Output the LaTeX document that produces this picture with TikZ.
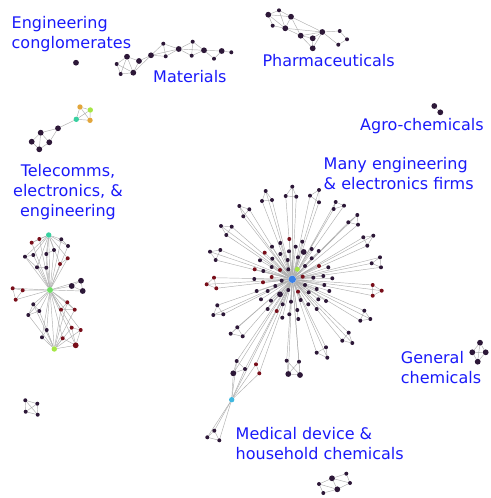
\documentclass[tikz,border=0pt]{standalone}
\usepackage{fontspec}
\setmainfont{DejaVu Sans}
\usetikzlibrary{backgrounds}
\definecolor{cdark}{RGB}{45,24,56}
\definecolor{cred}{RGB}{120,14,26}
\definecolor{corange}{RGB}{226,166,60}
\definecolor{clime}{RGB}{166,230,70}
\definecolor{cteal}{RGB}{56,208,160}
\definecolor{ccyan}{RGB}{64,184,224}
\definecolor{chub}{RGB}{58,128,232}
\definecolor{cgreen}{RGB}{110,224,100}
\definecolor{cedge}{RGB}{175,175,175}
\definecolor{clabel}{RGB}{26,26,250}
\tikzset{
  dn/.style={circle,inner sep=0pt,minimum size=4pt,fill=cdark,draw=none},
  dnb/.style={dn,minimum size=5.8pt},
  rn/.style={dn,fill=cred},
  rnb/.style={dnb,fill=cred},
  cn/.style={dn,minimum size=5.4pt,fill=#1},
  ln/.style={draw=cedge,line width=0.45pt},
  lab/.style={inner sep=0pt,text=clabel,font=\fontsize{16}{20}\selectfont}
}
\begin{document}
\begin{tikzpicture}[x=1pt,y=-1pt]
\useasboundingbox (0,0) rectangle (490,498);
% ---------- main star ----------
\node[cn=chub,minimum size=7.5pt] (H) at (292.3,279.3) {};
\node[cn=clime,minimum size=5pt] (G) at (297.3,269.3) {};
\node[cn=ccyan] (C) at (231.7,399.7) {};
\foreach \n/\x/\y/\s in {
 s1-a/265.7/191/dn, s1-b/262/201/dn, s1-c/272/200/dn,
 s2-a/292.3/186.7/dn, s2-b/285.7/196/dn, s2-c/296.3/196.7/dn,
 s3-a/310/195.7/dn, s3-b/319/190/dn, s3-c/319/202.3/dn,
 s4-a/335.7/202/dn, s4-b/344/205.7/dn, s4-c/333.7/209/dn,
 s5-a/357.3/215/dn, s5-b/348.3/222.3/dn, s5-c/358/224.7/dn,
 s6-a/373.3/235.7/dn, s6-b/363.3/237.3/dn, s6-c/367.3/245.7/dn,
 s7-a/380/257.3/dn, s7-b/371.7/263.3/dn, s7-c/381/267.3/dn,
 s8-a/372.7/285/rn, s8-b/381.7/290.7/rn, s8-c/372.7/295.7/rn,
 s9-a/364.3/310.7/dn, s9-b/370.3/319/dn, s9-c/360.3/320.7/dn,
 s10-a/348.7/332.7/dn, s10-b/342.3/340.7/dn, s10-c/352.3/343/dn,
 s11-a/326/347.3/dn, s11-b/316.7/352.7/dn, s11-c/327.3/357.7/dn,
 s14-a/237.3/327.3/dn, s14-b/230.7/333.7/dn, s14-c/242.7/336.3/dn,
 s15-a/217.3/305.3/dn, s15-b/213.3/315/dn, s15-c/223.3/314.3/dn,
 s16-a/214/277.7/rn, s16-b/206.7/284.3/rn, s16-c/216.3/288.3/rn,
 s17-a/210/251.7/dn, s17-b/220.3/250/dn, s17-c/215.7/260/dn,
 s18-a/221/226/dn, s18-b/231.7/226.7/dn, s18-c/226.3/235/dn,
 s19-a/239.3/206/dn, s19-b/249.3/209.3/dn, s19-c/243.3/216.3/dn,
 s12-a/286.7/360.7/dn, s12-b/299/361.7/dn, s12-c/288.3/374/dnb, s12-d/300/375/dnb,
 s13-a/236.7/361/dn, s13-b/256/364.3/rn, s13-c/245/369/dn, s13-d/233.3/373.3/dnb, s13-e/259.3/373.3/rn,
 mc1/214.3/430.7/dn, mc2/207.3/437.3/dn, mc3/219.3/440.3/dn,
 i1/280.3/243/dn, i2/272/246.7/dn, i3/280.3/254/dn, i4/289/251.3/dn, i5/260/260.3/dn,
 i6/272.3/258.7/dn, i7/287.7/260/dn, i8/263.3/271/dn, i9/271.7/267/dn, i10/288.3/269.3/dn,
 i11/254.3/279/dn, i12/302.3/241.7/dn, i13/295.7/246.7/dn, i14/303.7/252/dnb, i15/311.7/249/dn,
 i16/318.7/251/dn, i17/311.7/258.3/dn, i18/298/257.3/dn, i19/305/266/dn, i20/328.3/267.3/dn,
 i21/313.3/277.7/dn, i22/323.3/276/dn, i23/332.3/278.3/dn, i24/305/285/dn, i25/308.7/292.3/dn,
 i26/316.7/289/dn, i27/324.3/285/dn, i28/329.3/291/dn, i29/318.3/299.3/dn, i30/326/301/dn,
 i31/300.7/300/dn, i32/308.3/304.3/dn, i33/297.3/310/dn, i34/316.7/309/dn, i35/298.3/319/dn,
 i36/291/301.7/dn, i37/281.7/280.7/dn, i38/256.7/291/dn, i39/267.7/291/dn, i40/275.3/286/dn,
 i41/280/294.3/dnb, i42/288.3/290/dn, i43/261/299.3/dn, i44/271/300.7/dn, i45/282.7/304.3/dn,
 i46/276.7/311/rn, i47/267.7/309/dn, i48/289.3/314.3/dn, i49/282.3/317.7/dn,
 i50/289.3/239/rn, i51/264.7/252.7/rn, i52/254.7/269.3/rn, i53/280/270/rn, i54/271.7/277/rn,
 i55/319/266/rn, i56/302.7/276.7/rn, i57/298/291.7/rn, i58/263/282.3/rn}
  \node[\s] (\n) at (\x,\y) {};
% ---------- telecomms cluster ----------
\node[cn=cgreen,minimum size=6pt] (T) at (50,290) {};
\node[cn=cteal] (Tt) at (48.7,235) {};
\node[cn=clime] (Tb) at (54.3,349) {};
\foreach \n/\x/\y/\s in {
 u1/31.7/242.7/rn, u2/39.3/239/rn, u3/61.3/239.3/dn, u4/68/246/dn, u5/25/256.7/dn, u6/33.3/255/dn,
 u7/46.3/254/dn, u8/54/250/dn, u9/67.7/258.3/rn, u10/60/264/rn, u11/37/267.3/dn, u12/46.3/267.7/dn,
 r1/81/280.7/dnb, r2/71.7/286/dnb, r3/82.7/291/dnb,
 l1/12.7/288.3/rn, l2/22.7/290.3/rn, l3/15.7/299.7/rn,
 w1/33.3/304.3/dn, w2/67.3/302.3/rn, w3/61/309.7/rn, w4/74.7/309.7/rn, w5/39.3/311/dn, w6/28.3/315/dn,
 w7/46.7/330/dn, w8/71.7/327.7/rn, w9/80.7/330/rn, w10/42/337.3/dn, w11/62.7/338.3/rn, w12/75.7/345.3/rnb}
  \node[\s] (\n) at (\x,\y) {};
% ---------- small clusters ----------
\node[cn=corange] (g1) at (80,107) {};
\node[cn=clime] (g2) at (90.3,110) {};
\node[cn=cteal] (g3) at (76.3,119.3) {};
\node[cn=corange] (g4) at (90,120.3) {};
\foreach \n/\x/\y/\s in {
 g5/58/128.3/dnb, g6/40.7/132.7/dnb, g7/31.7/141.7/dnb, g8/49.3/142.3/dnb, g9/39.3/149.3/dnb,
 e1/76/62.7/dnb,
 m1/116.7/64/dn, m2/127/56.7/dnb, m3/120.7/74/dn, m4/133.3/72.7/dnb, m5/139/61/dnb, m6/151/55.3/dnb,
 m7/163.3/43.7/dn, m8/165.7/56.3/dn, m9/178.7/49/dnb, m10/192.7/41.7/dn, m11/191.7/55.7/dn,
 m12/204/50.3/dnb, m13/214/58.7/dn, m14/221.7/51/dnb, m15/231.3/52.3/dn,
 p1/268.3/14.7/dnb, p2/279/10.3/dn, p3/291/16.7/dnb, p4/272.7/25.7/dn, p5/285.3/28.3/dnb,
 p6/300.7/35.7/dnb, p7/312.7/38.3/dnb, p8/312.7/48.3/dnb, p9/322.3/32/dnb, p10/339.7/31/dn,
 p11/347/39.3/dn, p12/338.3/44.7/dn,
 a1/434.3/106/dnb, a2/440.3/112.3/dnb,
 gc1/480/342.7/dnb, gc2/472.3/352.3/dnb, gc3/485.7/352.3/dnb, gc4/477.7/361.7/dnb,
 b1/319/484/dn, b2/332/478.3/dnb, b3/346.3/473.7/dn, b4/350/483/dn, b5/337.3/489.3/dnb, b6/323.3/493/dn,
 bl1/25.3/400.3/dn, bl2/37.3/403.7/dn, bl3/25.7/411.7/dn, bl4/37.7/414.7/dn}
  \node[\s] (\n) at (\x,\y) {};
% ---------- edges ----------
\begin{pgfonlayer}{background}
\foreach \c in {s1,s2,s3,s4,s5,s6,s7,s8,s9,s10,s11,s14,s15,s16,s17,s18,s19}
  \draw[ln] (\c-a) -- (H) (\c-b) -- (H) (\c-c) -- (H) (\c-a) -- (\c-b) -- (\c-c) -- (\c-a);
\foreach \i in {1,...,58} \draw[ln] (i\i) -- (H);
\draw[ln] (G) -- (H) (C) -- (H);
\foreach \k in {a,b,c,d} \draw[ln] (s12-\k) -- (H);
\draw[ln] (s12-a) -- (s12-c) -- (s12-d) -- (s12-b) (s12-a) -- (s12-d) (s12-b) -- (s12-c);
\foreach \k in {a,b,c,d,e} \draw[ln] (s13-\k) -- (H) (s13-\k) -- (C);
\draw[ln] (s13-a) -- (s13-d) -- (s13-c) -- (s13-a) (s13-b) -- (s13-e);
\foreach \k in {mc1,mc2,mc3} \draw[ln] (\k) -- (C);
\draw[ln] (mc1) -- (mc2) -- (mc3) -- (mc1);
% telecomms
\draw[ln] (T) -- (Tt) (T) -- (Tb);
\foreach \k in {u1,u2,u3,u4,u5,u6,u7,u8,u9,u10,u11,u12} \draw[ln] (\k) -- (T) (\k) -- (Tt);
\draw[ln] (u1) -- (u2) (u5) -- (u6) (u3) -- (u4) (u9) -- (u10) (u11) -- (u12) (u7) -- (u8) (u5) -- (u11);
\foreach \k in {r1,r2,r3,l1,l2,l3} \draw[ln] (\k) -- (T);
\draw[ln] (r1) -- (r2) -- (r3) -- (r1) (l1) -- (l2) -- (l3) -- (l1);
\foreach \k in {w1,w2,w3,w4,w5,w6,w7,w8,w9,w10,w11,w12} \draw[ln] (\k) -- (T) (\k) -- (Tb);
\draw[ln] (w1) -- (w5) -- (w6) -- (w1) (w2) -- (w3) -- (w4) -- (w2) (w8) -- (w9) -- (w12) -- (w11) (w8) -- (w12) (w7) -- (w10);
% upper left group
\draw[ln] (g1) -- (g3) (g1) -- (g2) (g1) -- (g4) (g3) -- (g2) (g3) -- (g4) (g2) -- (g4) (g3) -- (g5)
  (g5) -- (g6) (g5) -- (g8) (g6) -- (g7) (g6) -- (g8) (g7) -- (g9) (g9) -- (g8) (g6) -- (g9);
% materials
\draw[ln] (m1) -- (m2) (m1) -- (m3) (m1) -- (m4) (m2) -- (m3) (m2) -- (m4) (m2) -- (m5) (m3) -- (m4)
  (m4) -- (m5) (m5) -- (m6) (m4) -- (m6) (m6) -- (m7) (m6) -- (m8) (m7) -- (m8) (m7) -- (m9)
  (m8) -- (m9) (m6) -- (m9) (m9) -- (m10) (m9) -- (m11) (m10) -- (m11) (m10) -- (m12) (m11) -- (m12)
  (m9) -- (m12) (m12) -- (m13) (m12) -- (m14) (m14) -- (m15) (m13) -- (m14);
% pharmaceuticals
\draw[ln] (p1) -- (p2) (p2) -- (p3) (p1) -- (p3) (p1) -- (p4) (p1) -- (p5) (p4) -- (p5) (p2) -- (p5)
  (p3) -- (p5) (p3) -- (p6) (p5) -- (p6) (p3) -- (p9) (p5) -- (p9) (p6) -- (p7) (p6) -- (p9)
  (p7) -- (p9) (p7) -- (p8) (p8) -- (p9) (p6) -- (p8) (p9) -- (p10) (p9) -- (p12) (p10) -- (p11)
  (p11) -- (p12);
% others
\draw[ln] (a1) -- (a2);
\draw[ln] (gc1) -- (gc2) (gc1) -- (gc3) (gc2) -- (gc4) (gc3) -- (gc4) (gc2) -- (gc3) (gc1) -- (gc4);
\draw[ln] (b1) -- (b2) (b1) -- (b5) (b1) -- (b6) (b2) -- (b3) (b2) -- (b5) (b2) -- (b4) (b3) -- (b4)
  (b5) -- (b4) (b6) -- (b5);
\draw[ln] (bl1) -- (bl2) (bl1) -- (bl3) (bl1) -- (bl4) (bl2) -- (bl3) (bl2) -- (bl4) (bl3) -- (bl4);
\end{pgfonlayer}
% ---------- labels ----------
\node[lab,anchor=base west] (L1a) at (11.5,28.3) {Engineering};
\node[lab,anchor=base west] (L1b) at (11.5,48.3) {conglomerates};
\node[lab,anchor=base west] (L2) at (153,82.7) {Materials};
\node[lab,anchor=base west] (L3) at (262.3,66.7) {Pharmaceuticals};
\node[lab,anchor=base west] (L4) at (360,130) {Agro-chemicals};
\node[lab,anchor=base west] (L5a) at (323.5,169.3) {Many engineering};
\node[lab,anchor=base west] (L5b) at (323.5,189.3) {\& electronics firms};
\node[lab,anchor=base] (L6a) at (68,176) {Telecomms,};
\node[lab,anchor=base] (L6b) at (68,196) {electronics, \&};
\node[lab,anchor=base] (L6c) at (68,216) {engineering};
\node[lab,anchor=base west] (L7a) at (400.7,363.7) {General};
\node[lab,anchor=base west] (L7b) at (400.7,383.5) {chemicals};
\node[lab,anchor=base west] (L8a) at (235.5,439.3) {Medical device \&};
\node[lab,anchor=base west] (L8b) at (235.5,459.3) {household chemicals};
\end{tikzpicture}
\end{document}
